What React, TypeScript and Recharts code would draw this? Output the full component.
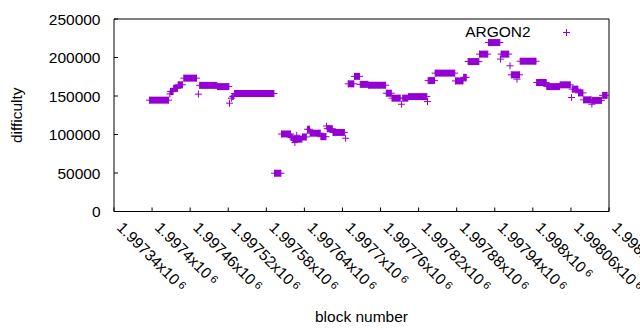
import React from "react"
import { ScatterChart, Scatter, XAxis, YAxis } from "recharts"

// runs of blocks that share the same difficulty (single blocks have start == end)
const runStart = [
  1997396, 1997428, 1997429, 1997434, 1997441, 1997450, 1997473, 1997475, 1997503, 1997522,
  1997525, 1997527, 1997530, 1997593, 1997604, 1997619, 1997622, 1997625, 1997628, 1997637,
  1997645, 1997649, 1997666, 1997675, 1997676, 1997685, 1997705, 1997709, 1997719, 1997728,
  1997741, 1997769, 1997778, 1997793, 1997795, 1997804, 1997834, 1997835, 1997846, 1997878,
  1997891, 1997898, 1997916, 1997930, 1997949, 1997950, 1997964, 1997966, 1997975, 1997980,
  1998006, 1998022, 1998043, 1998061, 1998062, 1998072, 1998080, 1998093, 1998094, 1998110,
]
const runEnd = [
  1997426, 1997428, 1997433, 1997440, 1997448, 1997470, 1997473, 1997502, 1997521, 1997522,
  1997525, 1997528, 1997592, 1997603, 1997618, 1997621, 1997636, 1997625, 1997628, 1997643,
  1997648, 1997665, 1997674, 1997675, 1997684, 1997703, 1997705, 1997718, 1997727, 1997740,
  1997768, 1997777, 1997791, 1997793, 1997803, 1997833, 1997834, 1997845, 1997877, 1997890,
  1997895, 1997915, 1997929, 1997948, 1997949, 1997962, 1997964, 1997979, 1997975, 1998005,
  1998021, 1998042, 1998059, 1998061, 1998071, 1998079, 1998092, 1998093, 1998108, 1998117,
]
const runDifficulty = [
  144600, 152700, 155800, 160000, 164500, 173200, 152400, 163800, 162200, 140700,
  147200, 149500, 153200, 49700, 100700, 96000, 94000, 89500, 99000, 96800,
  106800, 101700, 97200, 111000, 107500, 102700, 95200, 165800, 175500, 165100,
  164000, 153600, 147200, 139300, 147200, 149200, 142700, 170000, 179700, 169600,
  174200, 194700, 204400, 219400, 197900, 204400, 189200, 177500, 171900, 195200,
  167500, 162200, 164500, 148000, 158900, 154000, 145000, 139300, 144300, 150800,
]

const xTicks = [
  1997340, 1997400, 1997460, 1997520, 1997580, 1997640, 1997700,
  1997760, 1997820, 1997880, 1997940, 1998000, 1998060, 1998120,
]
const yTicks = [0, 50000, 100000, 150000, 200000, 250000]

const PURPLE = "#9400d3"
const FONT = "'Liberation Sans', Arial, sans-serif"

const runs = runStart.map((s, i) => {
  const d = runDifficulty[i]
  const pts = [{ block: s, difficulty: d }]
  if (runEnd[i] > s) pts.push({ block: runEnd[i], difficulty: d })
  return pts
})

function PlusMark(props: any) {
  const { cx, cy } = props
  if (cx == null || cy == null) return null
  return (
    <path
      d={`M${cx - 3.5},${cy}H${cx + 3.5}M${cx},${cy - 3.5}V${cy + 3.5}`}
      stroke={PURPLE}
      strokeWidth={1}
      fill="none"
    />
  )
}

function XTick(props: any) {
  const { x, y, payload } = props
  const label = String(payload.value / 1e6)
  return (
    <g transform={`translate(${x + 2},${y + 19})`}>
      <text transform="rotate(45)" fontSize={15.5} fontFamily={FONT} fill="#000">
        {label}x10
        <tspan fontSize={11} dx={3} dy={-3}>6</tspan>
      </text>
    </g>
  )
}

export default function App() {
  return (
    <div style={{ position: "absolute", left: 0, top: 0, width: 640, height: 330, background: "#fff" }}>
      <ScatterChart width={640} height={330} margin={{ top: 18, right: 30, bottom: 0, left: 0 }}>
        <XAxis
          xAxisId="bottom"
          type="number"
          dataKey="block"
          domain={[1997340, 1998120]}
          ticks={xTicks}
          interval={0}
          allowDataOverflow
          height={118.5}
          tickSize={-4}
          stroke="#000"
          tick={<XTick />}
          label={{ value: "block number", position: "insideBottom", offset: 8.5, fill: "#000", fontSize: 15.5, fontFamily: FONT }}
        />
        <XAxis
          xAxisId="top"
          orientation="top"
          type="number"
          domain={[1997340, 1998120]}
          ticks={xTicks}
          interval={0}
          allowDataOverflow
          height={1}
          tickSize={-4}
          stroke="#000"
          tick={() => <g />}
        />
        <YAxis
          yAxisId="left"
          type="number"
          dataKey="difficulty"
          domain={[0, 250000]}
          ticks={yTicks}
          interval={0}
          width={114}
          tickSize={-4}
          tickMargin={17.5}
          stroke="#000"
          tick={{ fill: "#000", fontSize: 15.5, fontFamily: FONT }}
          label={(p: any) => {
            const vb = p.viewBox || { y: 19, height: 192.5 }
            const cy = vb.y + vb.height / 2
            return (
              <text x={16} y={cy} transform={`rotate(-90,16,${cy})`} textAnchor="middle" dominantBaseline="central" fontSize={15.5} fontFamily={FONT} fill="#000">
                difficulty
              </text>
            )
          }}
        />
        <YAxis
          yAxisId="right"
          orientation="right"
          type="number"
          domain={[0, 250000]}
          ticks={yTicks}
          interval={0}
          width={1}
          tickSize={-4}
          stroke="#000"
          tick={() => <g />}
        />
        {runs.map((pts, i) => (
          <Scatter
            key={i}
            xAxisId="bottom"
            yAxisId="left"
            data={pts}
            fill={PURPLE}
            line={pts.length > 1 ? { stroke: PURPLE, strokeWidth: 7 } : false}
            lineType="joint"
            shape={(p: any) => <PlusMark {...p} />}
            legendType="none"
            isAnimationActive={false}
          />
        ))}
      </ScatterChart>
      <svg width={640} height={330} style={{ position: "absolute", left: 0, top: 0, pointerEvents: "none" }}>
        <text x={530.7} y={31.7} textAnchor="end" dominantBaseline="central" fontSize={15.5} fontFamily={FONT} fill="#000">
          ARGON2
        </text>
        <path d="M563,32.5H570M566.5,29V36" stroke={PURPLE} strokeWidth={1} fill="none" />
      </svg>
    </div>
  )
}
